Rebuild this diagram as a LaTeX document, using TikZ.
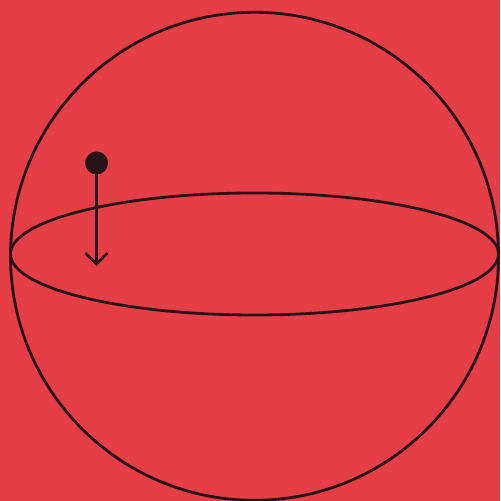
\documentclass[tikz,border=0pt]{standalone}
\usetikzlibrary{arrows.meta}
\definecolor{bgred}{RGB}{229,62,71}
\definecolor{ink}{RGB}{40,20,22}
\begin{document}
\begin{tikzpicture}[x=0.01cm,y=-0.01cm,>={Straight Barb[length=1.1mm,width=2.2mm]},line width=0.8pt,ink]
\fill[bgred](0,0)rectangle(500,501);
\useasboundingbox(0,0)rectangle(500,501);
\draw(254.5,256.3)circle[radius=244];
\draw(254.5,254)ellipse[x radius=244,y radius=61];
\node[circle,fill=ink,inner sep=0pt,minimum size=0.23cm](ball)at(96.5,163){};
\coordinate(tip)at(96.5,266);
\draw[->](ball.center)--(tip);

\end{tikzpicture}
\end{document}
